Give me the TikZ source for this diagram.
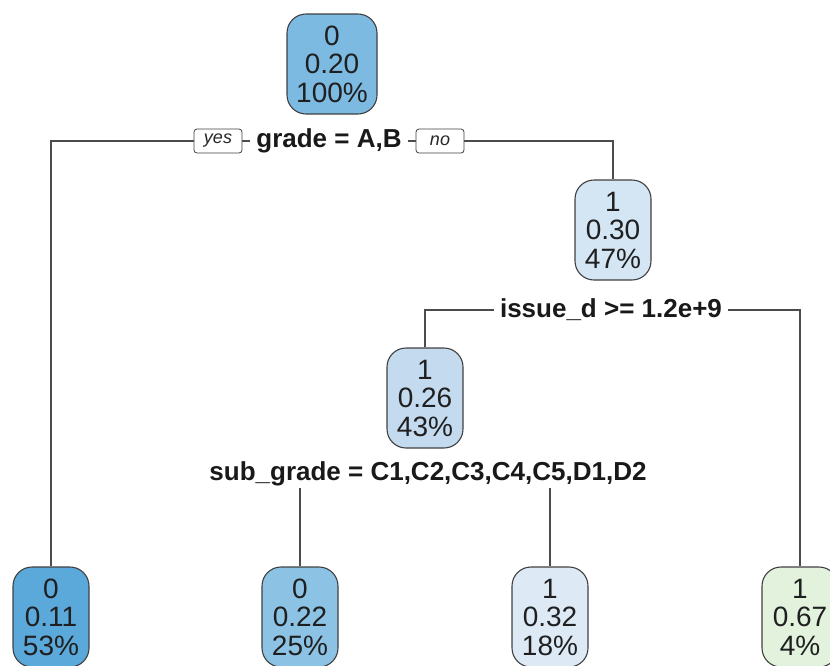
\documentclass[tikz,border=0pt]{standalone}
\usepackage{fontspec}
\setmainfont{Liberation Sans}
\definecolor{cA}{RGB}{91,168,218}
\definecolor{cRoot}{RGB}{124,186,225}
\definecolor{cB}{RGB}{140,195,229}
\definecolor{cN3}{RGB}{196,218,239}
\definecolor{cN2}{RGB}{212,229,244}
\definecolor{cC}{RGB}{221,234,246}
\definecolor{cD}{RGB}{226,242,221}
\tikzset{
  tnode/.style={draw=black!75, line width=1.1pt, rounded corners=19pt,
    minimum width=76pt, minimum height=100pt, align=center, inner ysep=0pt,
    inner xsep=5pt, text=black!88, font=\fontsize{28}{28.5}\selectfont},
  splitlab/.style={fill=white, text=black!90, font=\bfseries\fontsize{26}{30}\selectfont,
    inner xsep=6pt, inner ysep=2pt},
  yn/.style={draw=black!75, line width=0.8pt, fill=white, rounded corners=3pt,
    text=black!85, font=\itshape\fontsize{18}{20}\selectfont, minimum width=48pt,
    minimum height=24pt, inner sep=0pt},
  conn/.style={draw=black!70, line width=1.4pt}
}
\begin{document}
\begin{tikzpicture}[x=1pt,y=-1pt]
\useasboundingbox (0,0) rectangle (830,665);
% nodes
\node[tnode, fill=cRoot, minimum width=90pt] (root) at (332,64) {0\\0.20\\100\%};
\node[tnode, fill=cN2] (n2) at (613,230) {1\\0.30\\47\%};
\node[tnode, fill=cN3] (n3) at (425,398) {1\\0.26\\43\%};
\node[tnode, fill=cA] (l1) at (51,617) {0\\0.11\\53\%};
\node[tnode, fill=cB] (l2) at (300,617) {0\\0.22\\25\%};
\node[tnode, fill=cC] (l3) at (550,617) {1\\0.32\\18\%};
\node[tnode, fill=cD] (l4) at (800,617) {1\\0.67\\4\%};
% split labels
\node[splitlab] (s1) at (329,141) {grade = A,B};
\node[yn] (yes) at (218,141) {yes};
\node[yn] (no) at (440,141) {no};
\node[splitlab] (s2) at (611,310) {issue\_d >= 1.2e+9};
\node[splitlab] (s3) at (428,474) {sub\_grade = C1,C2,C3,C4,C5,D1,D2};
% connectors
\draw[conn] (l1.north) |- (yes.west);
\draw[conn] (yes.east) -- (s1.west);
\draw[conn] (s1.east) -- (no.west);
\draw[conn] (no.east) -| (n2.north);
\draw[conn] (n3.north) |- (s2.west);
\draw[conn] (s2.east) -| (l4.north);
\draw[conn] (l2.north) -- (l2.north |- s3.south);
\draw[conn] (l3.north) -- (l3.north |- s3.south);
\end{tikzpicture}
\end{document}
